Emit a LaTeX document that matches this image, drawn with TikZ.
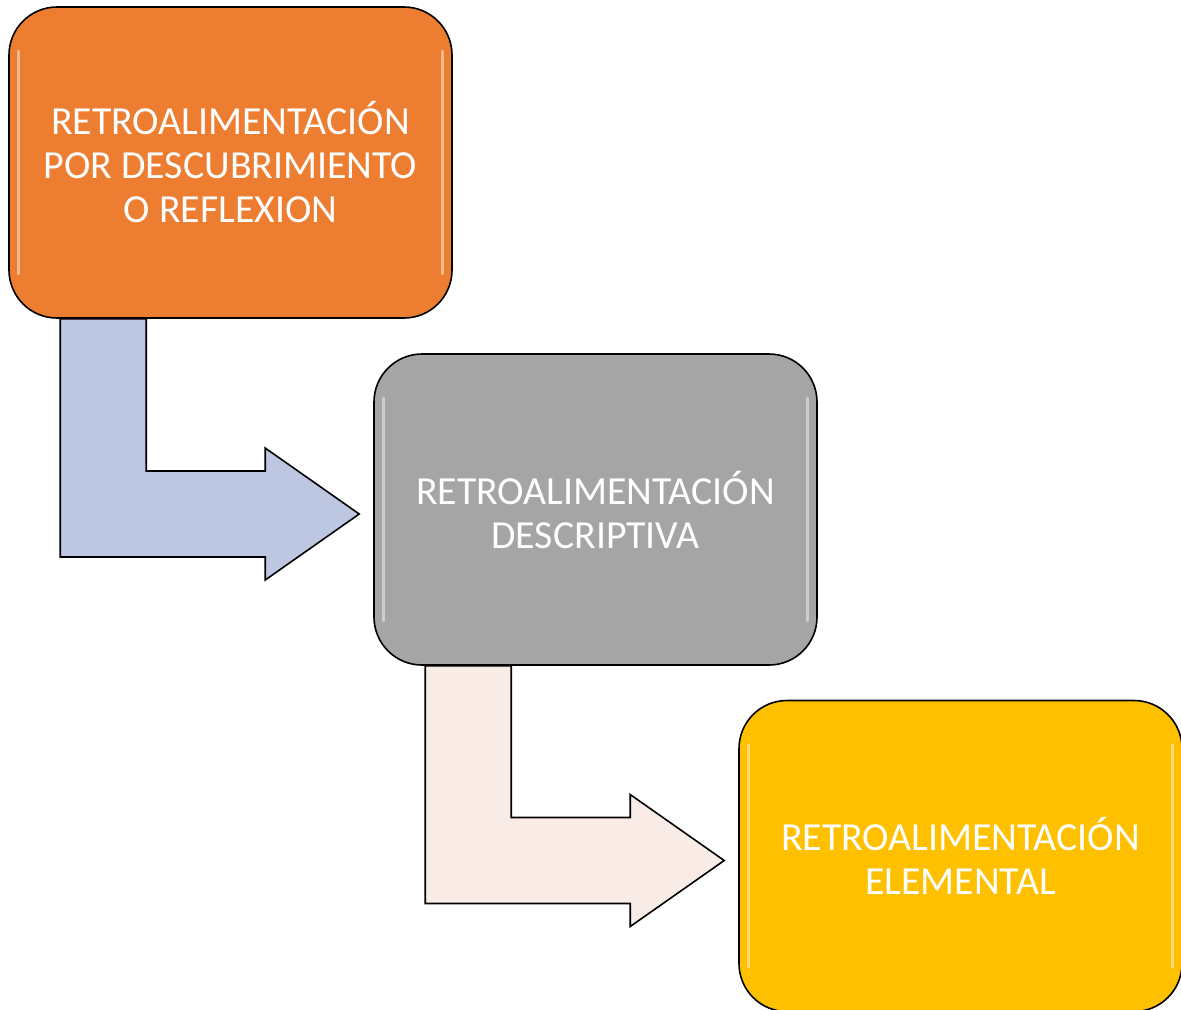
\documentclass[tikz,border=0pt]{standalone}
\usepackage{fontspec}
\setmainfont{Carlito}
\usetikzlibrary{calc}
\definecolor{naranja}{HTML}{ED7D31}
\definecolor{gris}{HTML}{A5A5A5}
\definecolor{amarillo}{HTML}{FFC000}
\definecolor{azulclaro}{HTML}{BDC7E2}
\definecolor{rosaclaro}{HTML}{F9EBE6}
\tikzset{caja/.style={draw=black, line width=0.8pt, rounded corners=24pt, minimum width=221.5pt, minimum height=155.5pt, align=center, text=white, font=\fontsize{19.9}{22}\selectfont}}
\newcommand{\brillo}[1]{ \draw[white, opacity=0.45, line width=1.5pt, line cap=round] ($(#1.north west)+(10,45)$) -- ($(#1.south west)+(10,-45)$) ($(#1.north east)+(-10,45)$) -- ($(#1.south east)+(-10,-45)$);}
\newcommand{\flecha}[3]{ \coordinate (#1s) at ($(#1.south west)+(52,0)$); \coordinate (#1t) at ($(#2.west)+(-14,4.5)$); \draw[line width=0.8pt, fill=#3, line join=miter] (#1s) |- ($(#1t)+(-94,43)$) -- ++(0,23) -- (#1t) -- ++(-94,-66) -- ++(0,23) -| ($(#1s)+(86,0)$) -- cycle;}

\begin{document}
\begin{tikzpicture}[x=0.5pt, y=-0.5pt]
        \useasboundingbox (0,0) rectangle (1181,1009);
        % cajas
        \node[caja, fill=naranja] (boxA) at (230.5,162.5) {RETROALIMENTACIÓN\\POR DESCUBRIMIENTO\\O REFLEXION};
        \node[caja, fill=gris] (boxB) at (595.5,509.5) {RETROALIMENTACIÓN\\DESCRIPTIVA};
        \node[caja, fill=amarillo] (boxC) at (960.5,856) {RETROALIMENTACIÓN\\ELEMENTAL};
        \brillo{boxA}
        \brillo{boxB}
        \brillo{boxC}
        % flechas
        \flecha{boxA}{boxB}{azulclaro}
        \flecha{boxB}{boxC}{rosaclaro}
    \end{tikzpicture}
\end{document}
